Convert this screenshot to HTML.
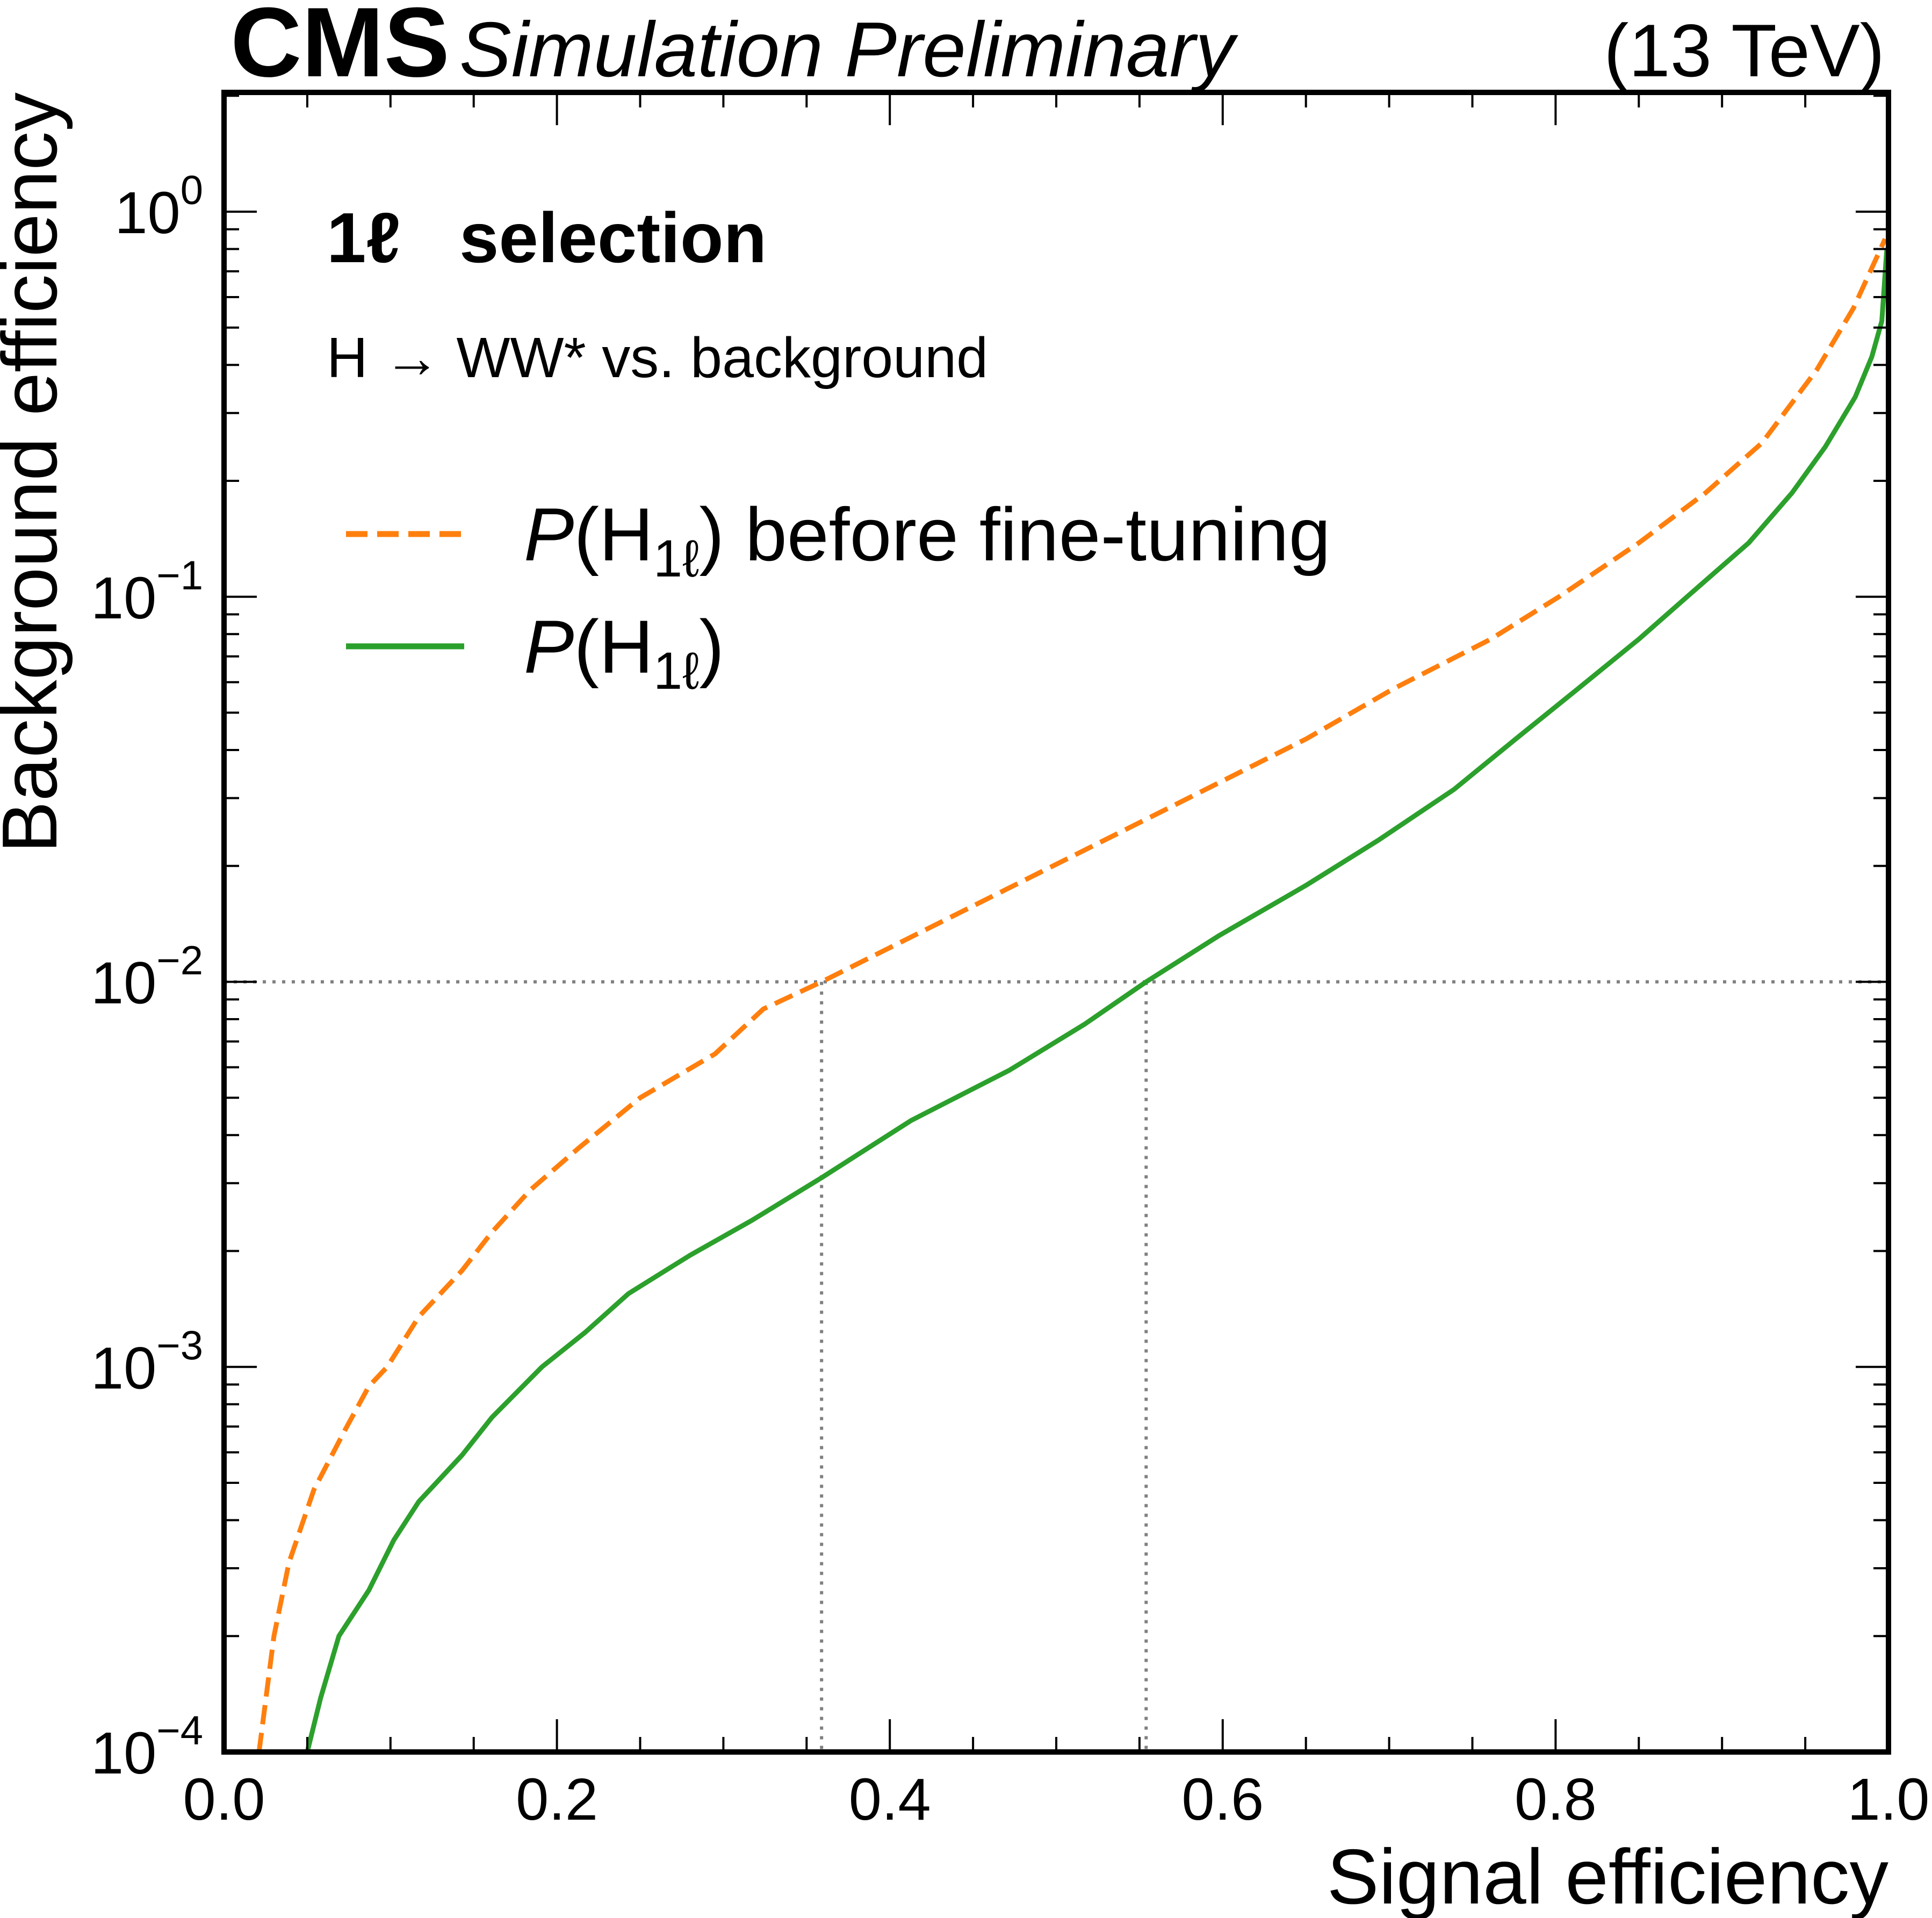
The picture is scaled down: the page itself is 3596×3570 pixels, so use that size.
<!DOCTYPE html>
<html><head><meta charset="utf-8"><style>
html,body{margin:0;padding:0;background:#fff;}
svg{display:block;font-family:"Liberation Sans",sans-serif;}
</style></head><body>
<svg id="chart" width="3596" height="3570" viewBox="0 0 3596 3570" xmlns="http://www.w3.org/2000/svg">
<g id="grid"></g>
<g id="curves"></g>
<g id="ticks"></g>
<rect x="417" y="172" width="3098" height="3089" fill="none" stroke="#000" stroke-width="10"/>
<text x="429" y="142" font-size="184" font-weight="bold" textLength="408" lengthAdjust="spacingAndGlyphs">CMS</text>
<text x="855" y="142" font-size="145" font-style="italic">Simulation Preliminary</text>
<text x="3508" y="142" font-size="139" text-anchor="end">(13 TeV)</text>
<text x="608" y="488" font-size="132" font-weight="bold">1ℓ</text>
<text x="855" y="488" font-size="132" font-weight="bold">selection</text>
<text x="608" y="702" font-size="106">H → WW* vs. background</text>
<line x1="644" y1="994" x2="864" y2="994" stroke="#ff7f0e" stroke-width="11" stroke-dasharray="40 18"/>
<text x="975" y="1043" font-size="140"><tspan font-style="italic">P</tspan>(H<tspan font-size="97" dy="30">1ℓ</tspan><tspan dy="-30">) before fine-tuning</tspan></text>
<line x1="644" y1="1203" x2="864" y2="1203" stroke="#2ca02c" stroke-width="11"/>
<text x="975" y="1252" font-size="140"><tspan font-style="italic">P</tspan>(H<tspan font-size="97" dy="30">1ℓ</tspan><tspan dy="-30">)</tspan></text>
<text x="3515" y="3543" font-size="145" text-anchor="end">Signal efficiency</text>
<text transform="translate(105,172) rotate(-90)" font-size="145" text-anchor="end">Background efficiency</text>
</svg>
<script>
const xBefore=[0.021,0.030,0.039,0.054,0.073,0.087,0.098,0.117,0.143,0.161,0.184,0.213,0.250,0.295,0.324,0.359,0.428,0.502,0.576,0.650,0.702,0.761,0.802,0.850,0.890,0.924,0.957,0.979,0.998];
const yBefore=[1e-4,2.0e-4,3.1e-4,4.8e-4,6.9e-4,8.9e-4,1.0e-3,1.35e-3,1.78e-3,2.24e-3,2.88e-3,3.7e-3,5.0e-3,6.5e-3,8.5e-3,1.0e-2,1.41e-2,2.04e-2,2.95e-2,4.27e-2,5.75e-2,7.76e-2,0.1,0.138,0.186,0.251,0.389,0.562,0.85];
const xFine=[0.050,0.058,0.069,0.087,0.102,0.117,0.143,0.161,0.191,0.217,0.243,0.280,0.317,0.359,0.413,0.472,0.517,0.554,0.598,0.650,0.694,0.739,0.776,0.813,0.850,0.879,0.916,0.942,0.962,0.980,0.990,0.996,0.999];
const yFine=[1e-4,1.38e-4,2.0e-4,2.63e-4,3.55e-4,4.47e-4,5.9e-4,7.4e-4,1.0e-3,1.23e-3,1.55e-3,1.95e-3,2.4e-3,3.1e-3,4.37e-3,5.9e-3,7.76e-3,1.0e-2,1.32e-2,1.78e-2,2.34e-2,3.16e-2,4.27e-2,5.75e-2,7.76e-2,0.1,0.138,0.186,0.245,0.33,0.42,0.52,0.8];
const xTickLabels=["0.0","0.2","0.4","0.6","0.8","1.0"];
const yTickExps=[0,-1,-2,-3,-4];
const refY=1e-2;
const refX=[0.359,0.554];

const L=417,R=3515,T=172,B=3261,Y0=394,DEC=(B-Y0)/4;
const NS="http://www.w3.org/2000/svg";
function sx(v){return L+v*(R-L);}
function sy(v){return Y0-Math.log10(v)*DEC;}
function mk(tag,attrs,parent){const e=document.createElementNS(NS,tag);for(const k in attrs)e.setAttribute(k,attrs[k]);parent.appendChild(e);return e;}
const svg=document.getElementById('chart');
const grid=document.getElementById('grid'),curves=document.getElementById('curves'),ticks=document.getElementById('ticks');

let h=mk('line',{x1:L,x2:R,y1:sy(refY),y2:sy(refY),stroke:'#808080','stroke-width':6,'stroke-dasharray':'6 12'},grid);


refX.forEach(v=>{const l=mk('line',{x1:sx(v),x2:sx(v),y1:sy(refY),y2:B,stroke:'#808080','stroke-width':6,'stroke-dasharray':'6 12'},grid);

});

function path(xs,ys){return xs.map((x,i)=>(i?'L':'M')+sx(x).toFixed(1)+' '+sy(ys[i]).toFixed(1)).join(' ');}
const p1=mk('path',{d:path(xBefore,yBefore),fill:'none',stroke:'#ff7f0e','stroke-width':9,'stroke-dasharray':'36 16','stroke-linejoin':'round'},curves);


const p2=mk('path',{d:path(xFine,yFine),fill:'none',stroke:'#2ca02c','stroke-width':9,'stroke-linejoin':'round'},curves);



for(let i=0;i<=20;i++){const v=i*0.05,x=sx(v),len=(i%4===0)?61:28;
 mk('line',{x1:x,x2:x,y1:B,y2:B-len,stroke:'#000','stroke-width':4},ticks);
 mk('line',{x1:x,x2:x,y1:T,y2:T+len,stroke:'#000','stroke-width':4},ticks);}
xTickLabels.forEach((s,i)=>{const t=mk('text',{x:sx(i*0.2),y:3387,'font-size':110,'text-anchor':'middle'},svg);t.textContent=s;

});
yTickExps.forEach(e=>{const y=sy(Math.pow(10,e));
 mk('line',{x1:L,x2:L+61,y1:y,y2:y,stroke:'#000','stroke-width':4},ticks);
 mk('line',{x1:R,x2:R-61,y1:y,y2:y,stroke:'#000','stroke-width':4},ticks);
 const t=mk('text',{x:378,y:y+40,'font-size':110,'text-anchor':'end'},svg);
 t.innerHTML='10<tspan font-size="76" dy="-54">'+(e===0?'0':'−'+(-e))+'</tspan>';
 
 
 for(let m=2;m<=9;m++){const v=Math.pow(10,e)*m;if(v>2.04)continue;const ym=sy(v);if(ym>B)continue;
  mk('line',{x1:L,x2:L+28,y1:ym,y2:ym,stroke:'#000','stroke-width':4},ticks);
  mk('line',{x1:R,x2:R-28,y1:ym,y2:ym,stroke:'#000','stroke-width':4},ticks);}
});
</script>
</body></html>
